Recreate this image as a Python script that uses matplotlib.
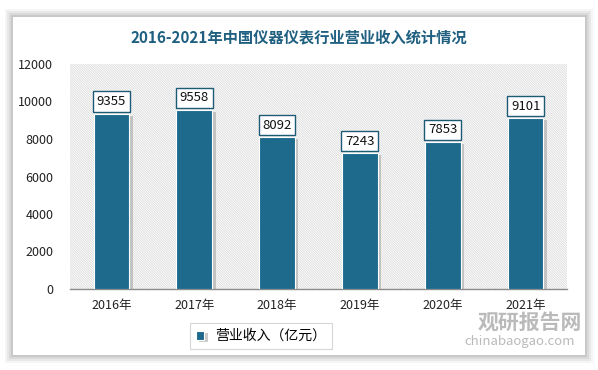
import matplotlib
matplotlib.use("Agg")
import matplotlib.pyplot as plt
import matplotlib.patheffects as pe
from matplotlib.patches import Rectangle

plt.rcParams['font.family'] = ['Noto Sans CJK SC', 'DejaVu Sans']
plt.rcParams['hatch.color'] = '#d4d4d4'
plt.rcParams['hatch.linewidth'] = 0.5

years = ['2016年', '2017年', '2018年', '2019年', '2020年', '2021年']
revenue = [9355, 9558, 8092, 7243, 7853, 9101]
bar_color = '#1d6a8d'

fig = plt.figure(figsize=(5.98, 3.70), dpi=100)
fig.patch.set_facecolor('white')

# card with soft shadow
for i, a in enumerate([0.04, 0.05, 0.06, 0.08]):
    d = (4 - i) * 2
    fig.patches.append(Rectangle(((13 - d) / 598, (15 - d) / 370), (572 + 2 * d) / 598, (338 + 2 * d) / 370,
                                 transform=fig.transFigure, facecolor='black', alpha=a,
                                 edgecolor='none', zorder=0))
fig.patches.append(Rectangle((13 / 598, 15 / 370), 572 / 598, 338 / 370, transform=fig.transFigure,
                             facecolor='white', edgecolor='none', zorder=1))

ax = fig.add_axes([70 / 598, 1 - 289 / 370, 497 / 598, 225 / 370])
ax.set_zorder(2)
ax.patch.set_facecolor('white')
ax.patch.set_hatch('\\' * 14)
ax.patch.set_edgecolor('#d4d4d4')
ax.patch.set_linewidth(0)

x = range(len(years))
bars = ax.bar(x, revenue, width=0.43, color=bar_color, edgecolor='white', linewidth=0.8, zorder=3,
              label='营业收入（亿元）')
for b in bars:
    b.set_path_effects([pe.SimplePatchShadow(offset=(2.5, -1.5), shadow_rgbFace='#999999', alpha=0.5),
                        pe.Normal()])

for i, v in enumerate(revenue):
    ax.annotate(str(v), (i, v), xytext=(0, 4), textcoords='offset points', ha='center', va='bottom',
                fontsize=9.5, color='#111111', zorder=5,
                bbox=dict(boxstyle='square,pad=0.28', facecolor='white', edgecolor='#1d5a73', linewidth=1))

ax.set_xlim(-0.5, 5.5)
ax.set_ylim(0, 12000)
ax.set_yticks(range(0, 12001, 2000))
ax.set_xticks(list(x))
ax.set_xticklabels(years)
ax.tick_params(axis='both', length=0, labelsize=9, colors='#222222')
ax.tick_params(axis='x', pad=7)
ax.tick_params(axis='y', pad=12)
for s in ['top', 'right', 'left']:
    ax.spines[s].set_visible(False)
ax.spines['bottom'].set_color('#8c8c8c')
ax.spines['bottom'].set_linewidth(1)

fig.text(299 / 598, 1 - 37 / 370, '2016-2021年中国仪器仪表行业营业收入统计情况', ha='center', va='center',
         fontsize=11, fontweight='bold', color='#1f5f80', zorder=3)

leg = fig.legend(handles=[bars], labels=['营业收入（亿元）'], loc='center', bbox_to_anchor=(261 / 598, 1 - 336 / 370),
                 frameon=True, fancybox=False, fontsize=10, handlelength=0.6, handleheight=0.6,
                 borderpad=0.45, edgecolor='#cccccc', borderaxespad=0)
leg.get_frame().set_linewidth(0.8)
leg.set_zorder(4)

# watermark
fig.text(530 / 598, 1 - 322 / 370, '观研报告网', ha='center', va='center', fontsize=15, fontweight='bold',
         color='#a9a9a9', alpha=0.8, zorder=4)
fig.text(520 / 598, 1 - 342 / 370, 'chinabaogao.com', ha='center', va='center', fontsize=9.5,
         color='#a9a9a9', alpha=0.8, zorder=4)

fig.savefig('out.png', dpi=100)
